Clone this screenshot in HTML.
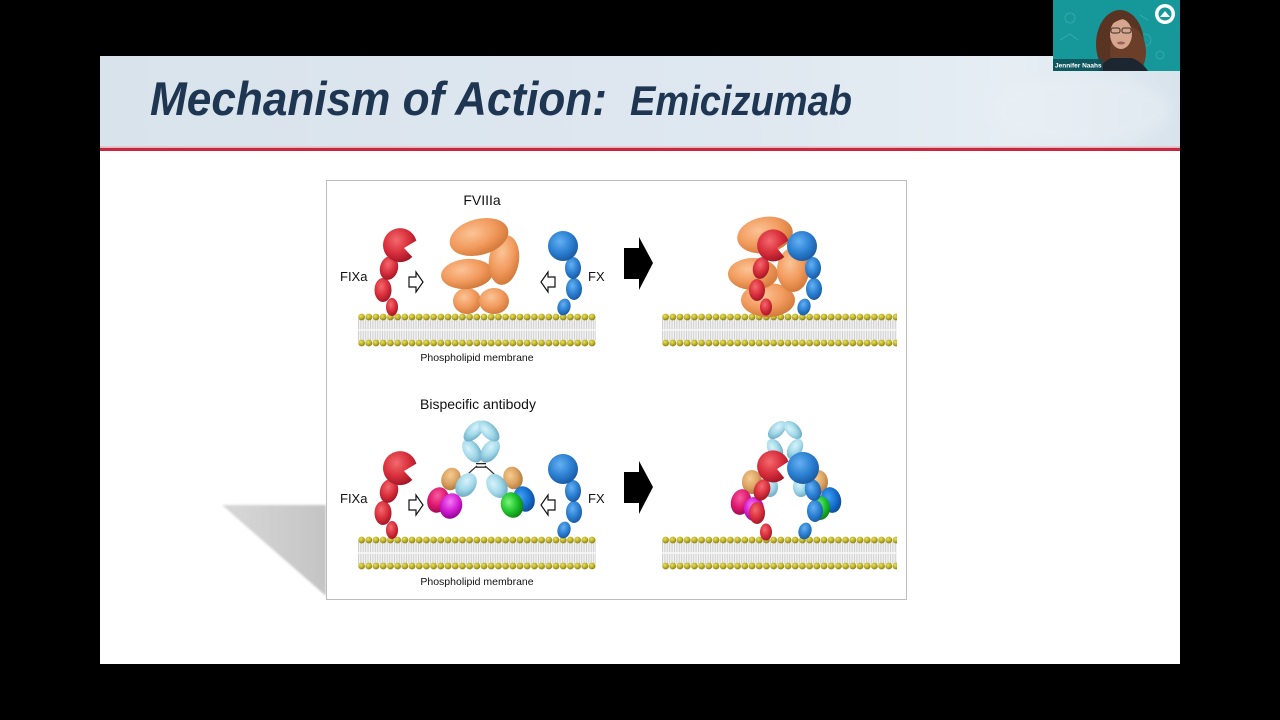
<!DOCTYPE html>
<html><head><meta charset="utf-8">
<style>
html,body{margin:0;padding:0;background:#000;}
svg{display:block;}
</style></head>
<body>
<svg width="1280" height="720" viewBox="0 0 1280 720" xmlns="http://www.w3.org/2000/svg">
<defs>
  <linearGradient id="hdr" x1="0" y1="0" x2="1" y2="0">
    <stop offset="0" stop-color="#d9e3ec"/>
    <stop offset="0.6" stop-color="#dfe8f0"/>
    <stop offset="0.85" stop-color="#e6eef4"/>
    <stop offset="1" stop-color="#d8e3ec"/>
  </linearGradient>
  <linearGradient id="shd" x1="0" y1="0" x2="1" y2="0">
    <stop offset="0" stop-color="#d8d8d8"/>
    <stop offset="1" stop-color="#c4c4c4"/>
  </linearGradient>
  <radialGradient id="gRed" cx="0.4" cy="0.35" r="0.7">
    <stop offset="0" stop-color="#f36a6e"/><stop offset="0.55" stop-color="#d92f3c"/><stop offset="1" stop-color="#9c1424"/>
  </radialGradient>
  <radialGradient id="gBlue" cx="0.4" cy="0.35" r="0.7">
    <stop offset="0" stop-color="#64b0f2"/><stop offset="0.55" stop-color="#2c80d2"/><stop offset="1" stop-color="#17569e"/>
  </radialGradient>
  <radialGradient id="gOr" cx="0.4" cy="0.35" r="0.7">
    <stop offset="0" stop-color="#fbc497"/><stop offset="0.55" stop-color="#f29b5e"/><stop offset="1" stop-color="#cf7636"/>
  </radialGradient>
  <radialGradient id="gCy" cx="0.4" cy="0.35" r="0.7">
    <stop offset="0" stop-color="#d8f3fa"/><stop offset="0.55" stop-color="#a2d8e8"/><stop offset="1" stop-color="#68a8c2"/>
  </radialGradient>
  <radialGradient id="gTan" cx="0.4" cy="0.35" r="0.7">
    <stop offset="0" stop-color="#f5cc8e"/><stop offset="0.55" stop-color="#dca464"/><stop offset="1" stop-color="#ac7636"/>
  </radialGradient>
  <radialGradient id="gPink" cx="0.4" cy="0.35" r="0.7">
    <stop offset="0" stop-color="#f65ea0"/><stop offset="0.55" stop-color="#e01a70"/><stop offset="1" stop-color="#9c0850"/>
  </radialGradient>
  <radialGradient id="gMag" cx="0.4" cy="0.35" r="0.7">
    <stop offset="0" stop-color="#f47af4"/><stop offset="0.55" stop-color="#d21cd2"/><stop offset="1" stop-color="#8c008c"/>
  </radialGradient>
  <radialGradient id="gGrn" cx="0.4" cy="0.35" r="0.7">
    <stop offset="0" stop-color="#7cf47c"/><stop offset="0.55" stop-color="#1ec42c"/><stop offset="1" stop-color="#0a7c12"/>
  </radialGradient>
  <radialGradient id="gAb" cx="0.4" cy="0.35" r="0.7">
    <stop offset="0" stop-color="#40a0f4"/><stop offset="0.55" stop-color="#1872d2"/><stop offset="1" stop-color="#0a4894"/>
  </radialGradient>
  <radialGradient id="gBead" cx="0.4" cy="0.35" r="0.7">
    <stop offset="0" stop-color="#e8e060"/><stop offset="0.55" stop-color="#bcb024"/><stop offset="1" stop-color="#7a7010"/>
  </radialGradient>
  <pattern id="beads" patternUnits="userSpaceOnUse" x="0" y="-4" width="7.2" height="8">
    <circle cx="3.6" cy="4" r="3.4" fill="url(#gBead)"/>
  </pattern>
  <pattern id="stripes" patternUnits="userSpaceOnUse" x="0" y="0" width="2.4" height="30">
    <rect x="0" y="0" width="2.4" height="30" fill="#f2f2f2"/>
    <rect x="0" y="0" width="0.9" height="30" fill="#cdcdcd"/>
  </pattern>
  <g id="mem">
    <rect x="0" y="2" width="238" height="22" fill="url(#stripes)"/>
    <rect x="0" y="12" width="238" height="2" fill="#f6f6f6" opacity="0.8"/>
    <rect x="0" y="-4" width="238" height="8" fill="url(#beads)"/>
    <g transform="translate(0,26)"><rect x="0" y="-4" width="238" height="8" fill="url(#beads)"/></g>
  </g>
  <g id="memR">
    <rect x="0" y="2" width="235" height="22" fill="url(#stripes)"/>
    <rect x="0" y="12" width="235" height="2" fill="#f6f6f6" opacity="0.8"/>
    <rect x="0" y="-4" width="235" height="8" fill="url(#beads)"/>
    <g transform="translate(0,26)"><rect x="0" y="-4" width="235" height="8" fill="url(#beads)"/></g>
  </g>
  <clipPath id="camclip"><rect x="1053" y="0" width="127" height="71"/></clipPath>
  <filter id="blur1"><feGaussianBlur stdDeviation="1"/></filter>
  <filter id="blur3"><feGaussianBlur stdDeviation="6"/></filter>
</defs>

<rect x="0" y="0" width="1280" height="720" fill="#000"/>

<!-- slide -->
<rect x="100" y="56" width="1080" height="608" fill="#ffffff"/>
<rect x="100" y="56" width="1080" height="92" fill="url(#hdr)"/>
<ellipse cx="1080" cy="110" rx="90" ry="35" fill="#eaf0f5" opacity="0.5" filter="url(#blur3)"/>
<rect x="100" y="146.5" width="1080" height="1.5" fill="#e9b5bd"/>
<rect x="100" y="148" width="1080" height="3" fill="#c7283f"/>

<!-- title -->
<text x="150" y="115" font-family="Liberation Sans, sans-serif" font-size="47" font-weight="bold" font-style="italic" fill="#1f3653" textLength="457" lengthAdjust="spacingAndGlyphs">Mechanism of Action:</text>
<text x="630" y="115" font-family="Liberation Sans, sans-serif" font-size="42" font-weight="bold" font-style="italic" fill="#1f3653" textLength="222" lengthAdjust="spacingAndGlyphs">Emicizumab</text>

<!-- shadow triangle -->
<polygon points="222,505 326,505 326,596" fill="url(#shd)" filter="url(#blur1)"/>

<!-- figure box -->
<rect x="326.5" y="180.5" width="580" height="419" fill="#ffffff" stroke="#bdbdbd" stroke-width="1"/>

<!-- ============ TOP PANEL ============ -->
<text x="482" y="205" text-anchor="middle" font-family="Liberation Sans, sans-serif" font-size="14" fill="#111">FVIIIa</text>
<text x="340" y="281" font-family="Liberation Sans, sans-serif" font-size="13" fill="#111">FIXa</text>
<text x="588" y="281" font-family="Liberation Sans, sans-serif" font-size="13" fill="#111">FX</text>

<use href="#mem" transform="translate(358,317)"/>
<text x="477" y="361" text-anchor="middle" font-family="Liberation Sans, sans-serif" font-size="10.5" fill="#111">Phospholipid membrane</text>

<!-- FIXa top-left -->
<ellipse cx="392" cy="307" rx="6" ry="9" fill="url(#gRed)"/>
<ellipse cx="383" cy="290" rx="8.5" ry="12" fill="url(#gRed)"/>
<ellipse cx="389" cy="268" rx="9" ry="12" transform="rotate(15 389 268)" fill="url(#gRed)"/>
<path d="M 413.3 258.9 A 17 17 0 1 1 417.4 242.6 L 405 250 Z" fill="url(#gRed)" transform="translate(-1,-2)"/>

<polygon points="409,277 416,277 416,272 423,282 416,292 416,287 409,287" fill="#fff" stroke="#111" stroke-width="1.2"/>
<polygon points="555,277 548,277 548,272 541,282 548,292 548,287 555,287" fill="#fff" stroke="#111" stroke-width="1.2"/>

<!-- FVIIIa orange -->
<ellipse cx="467" cy="301" rx="14" ry="13" fill="url(#gOr)"/>
<ellipse cx="494" cy="301" rx="15" ry="13" fill="url(#gOr)"/>
<ellipse cx="467" cy="274" rx="26" ry="15" transform="rotate(-5 467 274)" fill="url(#gOr)"/>
<ellipse cx="504" cy="260" rx="15" ry="25" transform="rotate(8 504 260)" fill="url(#gOr)"/>
<ellipse cx="479" cy="237" rx="30" ry="18" transform="rotate(-15 479 237)" fill="url(#gOr)"/>

<!-- FX top-left -->
<ellipse cx="564" cy="307" rx="6.5" ry="8.5" transform="rotate(15 564 307)" fill="url(#gBlue)"/>
<ellipse cx="574" cy="289" rx="8" ry="11" fill="url(#gBlue)"/>
<ellipse cx="573" cy="268" rx="8" ry="11" fill="url(#gBlue)"/>
<circle cx="563" cy="246" r="15" fill="url(#gBlue)"/>

<polygon points="624,248 639,248 639,237 653,263 639,290 639,279 624,279" fill="#000"/>

<!-- top right complex -->
<use href="#memR" transform="translate(662,317)"/>
<ellipse cx="768" cy="300" rx="27" ry="17" fill="url(#gOr)"/>
<ellipse cx="753" cy="274" rx="25" ry="16" fill="url(#gOr)"/>
<ellipse cx="793" cy="270" rx="16" ry="22" fill="url(#gOr)"/>
<ellipse cx="765" cy="235" rx="28" ry="18" transform="rotate(-10 765 235)" fill="url(#gOr)"/>
<ellipse cx="766" cy="307" rx="6" ry="8.5" fill="url(#gRed)"/>
<ellipse cx="757" cy="290" rx="8" ry="11" fill="url(#gRed)"/>
<ellipse cx="761" cy="268" rx="8" ry="11" transform="rotate(15 761 268)" fill="url(#gRed)"/>
<path d="M 785.3 258.9 A 16 16 0 1 1 789.4 242.6 L 778 250 Z" fill="url(#gRed)" transform="translate(-1,-2)"/>
<ellipse cx="804" cy="307" rx="6.5" ry="8.5" transform="rotate(15 804 307)" fill="url(#gBlue)"/>
<ellipse cx="814" cy="289" rx="8" ry="11" fill="url(#gBlue)"/>
<ellipse cx="813" cy="268" rx="8" ry="11" fill="url(#gBlue)"/>
<circle cx="802" cy="246" r="15" fill="url(#gBlue)"/>

<!-- ============ BOTTOM PANEL ============ -->
<text x="478" y="409" text-anchor="middle" font-family="Liberation Sans, sans-serif" font-size="14" fill="#111">Bispecific antibody</text>
<text x="340" y="503" font-family="Liberation Sans, sans-serif" font-size="13" fill="#111">FIXa</text>
<text x="588" y="503" font-family="Liberation Sans, sans-serif" font-size="13" fill="#111">FX</text>

<use href="#mem" transform="translate(358,540)"/>
<text x="477" y="585" text-anchor="middle" font-family="Liberation Sans, sans-serif" font-size="10.5" fill="#111">Phospholipid membrane</text>

<!-- FIXa bottom-left -->
<ellipse cx="392" cy="530" rx="6" ry="9" fill="url(#gRed)"/>
<ellipse cx="383" cy="513" rx="8.5" ry="12" fill="url(#gRed)"/>
<ellipse cx="389" cy="491" rx="9" ry="12" transform="rotate(15 389 491)" fill="url(#gRed)"/>
<path d="M 413.3 481.9 A 17 17 0 1 1 417.4 465.6 L 405 473 Z" fill="url(#gRed)" transform="translate(-1,-2)"/>

<polygon points="409,500 416,500 416,495 423,505 416,515 416,510 409,510" fill="#fff" stroke="#111" stroke-width="1.2"/>
<polygon points="555,500 548,500 548,495 541,505 548,515 548,510 555,510" fill="#fff" stroke="#111" stroke-width="1.2"/>

<!-- antibody -->
<path d="M 477 466 Q 472 470 466 476 M 485 466 Q 490 470 496 476" stroke="#333" stroke-width="1.2" fill="none"/>
<ellipse cx="472" cy="451" rx="8" ry="13" transform="rotate(-35 472 451)" fill="url(#gCy)"/>
<ellipse cx="490" cy="451" rx="8" ry="13" transform="rotate(35 490 451)" fill="url(#gCy)"/>
<ellipse cx="474" cy="431" rx="7" ry="13" transform="rotate(45 474 431)" fill="url(#gCy)"/>
<ellipse cx="489" cy="431" rx="7" ry="13" transform="rotate(-45 489 431)" fill="url(#gCy)"/>
<rect x="476" y="463" width="10" height="1.3" fill="#222"/>
<rect x="476" y="466.5" width="10" height="1.3" fill="#222"/>
<!-- left arm -->
<ellipse cx="451" cy="479" rx="9.5" ry="11.5" transform="rotate(20 451 479)" fill="url(#gTan)"/>
<ellipse cx="466" cy="485" rx="9.5" ry="13" transform="rotate(35 466 485)" fill="url(#gCy)"/>
<ellipse cx="438" cy="500" rx="10.5" ry="13" transform="rotate(20 438 500)" fill="url(#gPink)"/>
<ellipse cx="451" cy="506" rx="11" ry="13" transform="rotate(20 451 506)" fill="url(#gMag)"/>
<!-- right arm -->
<ellipse cx="513" cy="478" rx="9.5" ry="11.5" transform="rotate(-20 513 478)" fill="url(#gTan)"/>
<ellipse cx="497" cy="486" rx="9.5" ry="13" transform="rotate(-35 497 486)" fill="url(#gCy)"/>
<ellipse cx="524" cy="499" rx="10.5" ry="13" transform="rotate(-20 524 499)" fill="url(#gAb)"/>
<ellipse cx="512" cy="505" rx="11" ry="13" transform="rotate(-20 512 505)" fill="url(#gGrn)"/>

<!-- FX bottom-left -->
<ellipse cx="564" cy="530" rx="6.5" ry="8.5" transform="rotate(15 564 530)" fill="url(#gBlue)"/>
<ellipse cx="574" cy="512" rx="8" ry="11" fill="url(#gBlue)"/>
<ellipse cx="573" cy="491" rx="8" ry="11" fill="url(#gBlue)"/>
<circle cx="563" cy="469" r="15" fill="url(#gBlue)"/>

<polygon points="624,472 639,472 639,461 653,487 639,514 639,503 624,503" fill="#000"/>

<!-- bottom right complex -->
<use href="#memR" transform="translate(662,540)"/>
<ellipse cx="775" cy="449" rx="7" ry="11" transform="rotate(-30 775 449)" fill="url(#gCy)"/>
<ellipse cx="795" cy="449" rx="7" ry="11" transform="rotate(30 795 449)" fill="url(#gCy)"/>
<ellipse cx="777" cy="430" rx="6.5" ry="11" transform="rotate(45 777 430)" fill="url(#gCy)"/>
<ellipse cx="793" cy="430" rx="6.5" ry="11" transform="rotate(-45 793 430)" fill="url(#gCy)"/>
<ellipse cx="752" cy="482" rx="10" ry="12" fill="url(#gTan)"/>
<ellipse cx="818" cy="482" rx="10" ry="12" fill="url(#gTan)"/>
<ellipse cx="770" cy="487" rx="8" ry="10" fill="url(#gCy)"/>
<ellipse cx="801" cy="487" rx="8" ry="10" fill="url(#gCy)"/>
<ellipse cx="741" cy="502" rx="10" ry="13" transform="rotate(15 741 502)" fill="url(#gPink)"/>
<ellipse cx="754" cy="509" rx="10" ry="12" fill="url(#gMag)"/>
<ellipse cx="831" cy="500" rx="10" ry="13" transform="rotate(-15 831 500)" fill="url(#gAb)"/>
<ellipse cx="820" cy="508" rx="10" ry="12" fill="url(#gGrn)"/>
<ellipse cx="766" cy="532" rx="6" ry="8.5" fill="url(#gRed)"/>
<ellipse cx="757" cy="513" rx="8" ry="11" fill="url(#gRed)"/>
<ellipse cx="762" cy="490" rx="8" ry="11" transform="rotate(20 762 490)" fill="url(#gRed)"/>
<path d="M 785.3 479.9 A 16 16 0 1 1 789.4 463.6 L 778 471 Z" fill="url(#gRed)" transform="translate(-1,-2)"/>
<ellipse cx="805" cy="531" rx="6.5" ry="8.5" transform="rotate(15 805 531)" fill="url(#gBlue)"/>
<ellipse cx="815" cy="511" rx="8" ry="11" fill="url(#gBlue)"/>
<ellipse cx="813" cy="490" rx="8" ry="11" transform="rotate(-15 813 490)" fill="url(#gBlue)"/>
<circle cx="803" cy="468" r="16" fill="url(#gBlue)"/>

<!-- ============ WEBCAM ============ -->
<g clip-path="url(#camclip)">
<rect x="1053" y="0" width="127" height="71" fill="#16989a"/>
<g opacity="0.18" stroke="#e0ffff" fill="none" stroke-width="0.8">
  <circle cx="1070" cy="18" r="5"/><circle cx="1145" cy="40" r="6"/><circle cx="1160" cy="55" r="4"/>
  <path d="M1060 40 l10 -6 l8 6"/><path d="M1140 15 l8 5"/>
</g>
<ellipse cx="1120" cy="44" rx="24" ry="34" fill="#5a3422"/>
<ellipse cx="1128" cy="52" rx="18" ry="26" fill="#6a3e28"/>
<path d="M1098 71 Q1104 60 1112 58 L1132 58 Q1142 62 1148 71 Z" fill="#1c2630"/>
<ellipse cx="1121" cy="34" rx="11" ry="15" fill="#d7a68e"/>
<rect x="1111" y="28" width="9" height="5" rx="2" fill="none" stroke="#3a3030" stroke-width="1"/>
<rect x="1122" y="28" width="9" height="5" rx="2" fill="none" stroke="#3a3030" stroke-width="1"/>
<ellipse cx="1121" cy="43" rx="4" ry="1.5" fill="#a0605a"/>
<path d="M1108 20 Q1118 10 1132 20 Q1124 16 1112 24 Z" fill="#5a3422"/>
<circle cx="1165" cy="14" r="10" fill="#ffffff"/>
<circle cx="1165" cy="14" r="6.5" fill="#16989a"/>
<path d="M1160 17 L1165 11 L1170 17 Z" fill="#ffffff"/>
<rect x="1053" y="59" width="50" height="12" fill="#0f4c55" opacity="0.85"/>
<text x="1055" y="67.5" font-family="Liberation Sans, sans-serif" font-size="6.5" font-weight="bold" fill="#ffffff">Jennifer Naahs</text>
</g>
</svg>
</body></html>
